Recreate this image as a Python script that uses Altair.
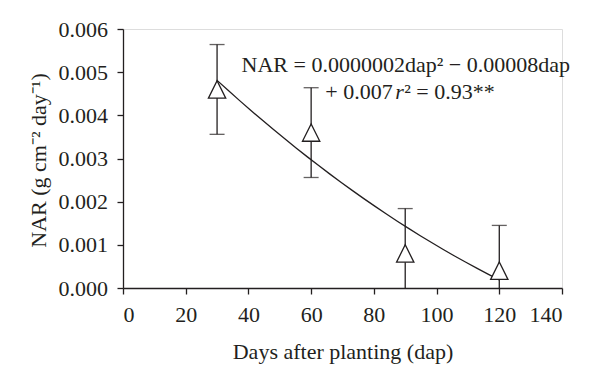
import altair as alt
import pandas as pd

# Data
dap = [30, 60, 90, 120]
nar = [0.0046, 0.0036, 0.0008, 0.0004]
err = [0.00104, 0.00104, 0.00104, 0.00105]

# Equation annotation pieces (text, x in dap units, y in NAR units, italic?)
eq_text = ["NAR = 0.0000002dap² − 0.00008dap", "+ 0.007", "r", "² = 0.93**"]
eq_x = [37.8, 64.5, 86.8, 89.7]
eq_y = [0.00501, 0.00437, 0.00437, 0.00437]
eq_style = ["normal", "normal", "italic", "normal"]

INK = "#231f20"
FONT = "Liberation Serif"
FS = 22

df = pd.DataFrame({"dap": dap, "nar": nar, "err": err})
df["hi"] = df["nar"] + df["err"]
df["lo"] = (df["nar"] - df["err"]).clip(lower=0)

ann = pd.DataFrame({"x": eq_x, "y": eq_y, "t": eq_text, "s": eq_style})

xscale = alt.Scale(domain=[0, 140], nice=False)
yscale = alt.Scale(domain=[0, 0.006], nice=False)

xaxis = alt.Axis(
    values=[0, 20, 40, 60, 80, 100, 120, 140], title="Days after planting (dap)",
    grid=False, tickSize=6, labelPadding=10, domainColor=INK, tickColor=INK,
    labelColor=INK, titleColor=INK, labelFont=FONT, titleFont=FONT,
    labelFontSize=FS, titleFontSize=FS, titleFontWeight="normal",
    domainWidth=1.3, tickWidth=1.3,
    titleBaseline="alphabetic", titleX=219.5, titleY=70,
)
yaxis = alt.Axis(
    values=[0, 0.001, 0.002, 0.003, 0.004, 0.005, 0.006], format=".3f",
    title="NAR (g cm⁻² day⁻¹)", grid=False, tickSize=6, labelPadding=9.5,
    domainColor=INK, tickColor=INK, labelColor=INK, titleColor=INK,
    labelFont=FONT, titleFont=FONT, labelFontSize=FS, titleFontSize=FS,
    titleFontWeight="normal", domainWidth=1.3, tickWidth=1.3,
    titleBaseline="alphabetic", titleX=-78, titleY=131, titleAngle=270,
)

base = alt.Chart(df)

rules = base.mark_rule(color=INK, strokeWidth=1.3).encode(
    x=alt.X("dap:Q", scale=xscale, axis=xaxis),
    y=alt.Y("lo:Q", scale=yscale, axis=yaxis),
    y2="hi:Q",
)
cap_hi = base.mark_tick(color=INK, orient="horizontal", size=15, thickness=1.3).encode(
    x=alt.X("dap:Q", scale=xscale), y=alt.Y("hi:Q", scale=yscale)
)
cap_lo = base.transform_filter("datum.lo > 0").mark_tick(
    color=INK, orient="horizontal", size=15, thickness=1.3
).encode(x=alt.X("dap:Q", scale=xscale), y=alt.Y("lo:Q", scale=yscale))

curve = base.transform_regression(
    "dap", "nar", method="poly", order=2, extent=[30, 120]
).mark_line(color=INK, strokeWidth=1.3).encode(
    x=alt.X("dap:Q", scale=xscale), y=alt.Y("nar:Q", scale=yscale)
)

points = base.mark_point(
    shape="M-1,1L1,1L0,-1Z", size=300, filled=True, fill="white",
    stroke=INK, strokeWidth=1.3, opacity=1,
).encode(x=alt.X("dap:Q", scale=xscale), y=alt.Y("nar:Q", scale=yscale))

text_normal = alt.Chart(ann).transform_filter("datum.s == 'normal'").mark_text(
    align="left", baseline="alphabetic", font=FONT, fontSize=FS, color=INK
).encode(x=alt.X("x:Q", scale=xscale), y=alt.Y("y:Q", scale=yscale), text="t:N")
text_italic = alt.Chart(ann).transform_filter("datum.s == 'italic'").mark_text(
    align="left", baseline="alphabetic", font=FONT, fontSize=FS, color=INK,
    fontStyle="italic",
).encode(x=alt.X("x:Q", scale=xscale), y=alt.Y("y:Q", scale=yscale), text="t:N")

chart = alt.layer(rules, curve, cap_hi, cap_lo, points, text_normal, text_italic).properties(
    width=439, height=259,
    autosize=alt.AutoSizeParams(type="none"),
    padding={"left": 115, "top": 21, "right": 25, "bottom": 80},
).configure_view(stroke=None).configure(background="white")

chart.save("out.html", embed_options={"renderer": "svg", "actions": False})
